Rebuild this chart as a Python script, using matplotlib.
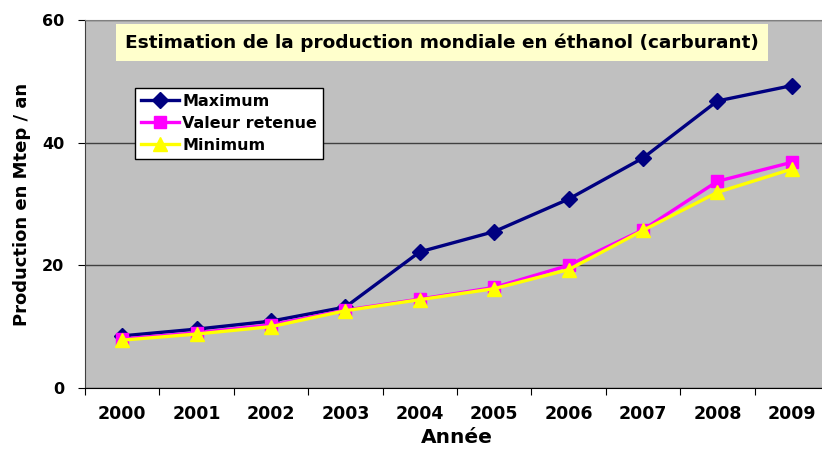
import numpy as np
import matplotlib
matplotlib.use('Agg')
from matplotlib import pyplot as plt

plt.rcParams['font.family'] = ['DejaVu Sans']

annees = ['2000', '2001', '2002', '2003', '2004', '2005', '2006', '2007', '2008', '2009']
maximum = [8.5, 9.6, 10.9, 13.2, 22.2, 25.5, 30.8, 37.5, 46.8, 49.3]
valeur_retenue = [8.0, 9.0, 10.3, 12.7, 14.5, 16.4, 20.0, 25.8, 33.7, 36.8]
minimum = [7.8, 8.8, 10.0, 12.6, 14.4, 16.2, 19.3, 25.7, 31.9, 35.7]
y_ticks = [0, 20, 40, 60]

fig = plt.figure(figsize=(8.22, 4.55), dpi=100)
ax = fig.add_axes([85/822, 1 - 388/455, 744/822, 368/455])
ax.set_facecolor('#C0C0C0')

x = np.arange(len(annees))
ax.plot(x, maximum, color='#000080', lw=2.4, marker='D', ms=8, label='Maximum', zorder=3)
ax.plot(x, valeur_retenue, color='#FF00FF', lw=2.4, marker='s', ms=9, label='Valeur retenue', zorder=4)
ax.plot(x, minimum, color='#FFFF00', lw=2.4, marker='^', ms=10, label='Minimum', zorder=5)

ax.set_xlim(-0.5, len(annees) - 0.5)
ax.set_ylim(0, 60)
ax.set_yticks(y_ticks)
ax.set_yticklabels([str(v) for v in y_ticks], fontsize=11.5, fontweight='bold')
ax.set_xticks(np.arange(-0.5, len(annees)), labels=[])
ax.set_xticks(x, labels=annees, minor=True)
ax.tick_params(axis='x', which='major', length=5, direction='out')
ax.tick_params(axis='x', which='minor', length=0, pad=12, labelsize=12.5)
for t in ax.get_xticklabels(minor=True):
    t.set_fontweight('bold')
ax.tick_params(axis='y', length=5, direction='out', pad=10)

ax.grid(axis='y', color='#404040', lw=1)
ax.set_axisbelow(True)
ax.spines['top'].set_color('#808080')
ax.spines['right'].set_visible(False)
ax.spines['left'].set_color('#404040')

ax.set_xlabel('Année', fontsize=14.5, fontweight='bold', labelpad=4)
ax.set_ylabel('Production en Mtep / an', fontsize=13, fontweight='bold', labelpad=8)

# titre dans un cadre jaune pâle
ax.text(0.48, 0.939, 'Estimation de la production mondiale en éthanol (carburant)',
        transform=ax.transAxes, ha='center', va='center', fontsize=13.3, fontweight='bold',
        bbox=dict(boxstyle='square,pad=0.48', facecolor='#FFFFCC', edgecolor='none'))

leg = ax.legend(loc='upper left', bbox_to_anchor=(50/744, 300/368), borderaxespad=0,
                frameon=True, fancybox=False, edgecolor='black', framealpha=1,
                borderpad=0.35, labelspacing=0.45, handlelength=2.4, handletextpad=0.2,
                prop={'weight': 'bold', 'size': 11.5})
leg.get_frame().set_linewidth(1)

plt.savefig('out.png', dpi=100)
